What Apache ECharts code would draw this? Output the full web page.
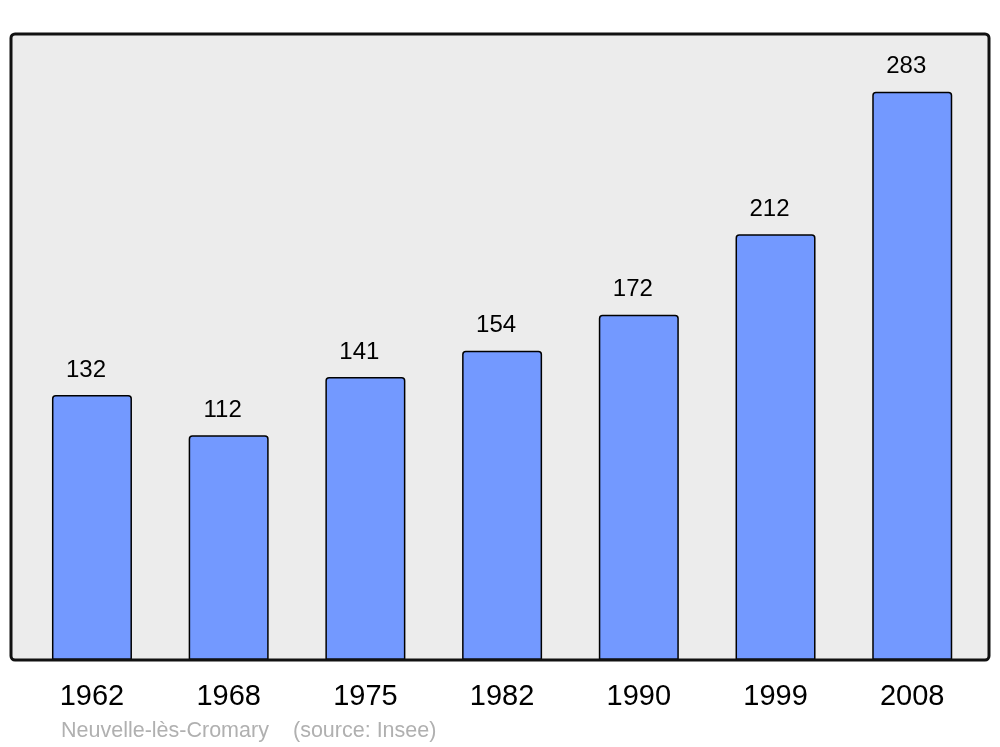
<!DOCTYPE html>
<html>
<head>
<meta charset="utf-8">
<script src="https://cdn.jsdelivr.net/npm/echarts@6/dist/echarts.min.js"></script>
<style>html,body{margin:0;padding:0;background:#fff;}#c{width:1000px;height:747px;}</style>
</head>
<body>
<div id="c"></div>
<script>
const years = ['1962', '1968', '1975', '1982', '1990', '1999', '2008'];
const population = [132, 112, 141, 154, 172, 212, 283];
const footerPlace = 'Neuvelle-lès-Cromary';
const footerSource = '(source: Insee)';

const chart = echarts.init(document.getElementById('c'), null, {renderer: 'canvas'});
chart.setOption({
  animation: false,
  backgroundColor: '#ffffff',
  textStyle: {fontFamily: 'Liberation Sans, Arial, sans-serif'},
  grid: {left: 23.6, right: 19.4, top: 34, bottom: 87, containLabel: false},
  xAxis: {
    type: 'category',
    data: years,
    axisLine: {show: false},
    axisTick: {show: false},
    axisLabel: {color: '#000', fontSize: 29, margin: 22, fontFamily: 'Liberation Sans, Arial, sans-serif'}
  },
  yAxis: {
    type: 'value',
    min: 0,
    max: 311.8,
    show: false,
    splitLine: {show: false}
  },
  graphic: [
    {type: 'rect', z: -10, silent: true,
     shape: {x: 11, y: 34, width: 978, height: 626, r: 4},
     style: {fill: '#ececec', stroke: null}},
    {type: 'rect', z: 100, silent: true,
     shape: {x: 11, y: 34, width: 978, height: 626, r: 4},
     style: {fill: null, stroke: '#111', lineWidth: 3}},
    {type: 'text', left: 61, top: 720, silent: true,
     style: {text: footerPlace, fill: '#b0b0b0', fontSize: 21.5, fontFamily: 'Liberation Sans, Arial, sans-serif'}},
    {type: 'text', left: 293, top: 720, silent: true,
     style: {text: footerSource, fill: '#b0b0b0', fontSize: 21.5, fontFamily: 'Liberation Sans, Arial, sans-serif'}}
  ],
  series: [{
    type: 'bar',
    data: population,
    barWidth: 80,
    itemStyle: {color: '#7399ff', borderColor: '#000', borderWidth: 1.5, borderRadius: [3, 3, 0, 0]},
    label: {show: true, position: 'top', distance: 13, offset: [-6, 0], color: '#000', fontSize: 24,
            fontFamily: 'Liberation Sans, Arial, sans-serif'}
  }]
});
</script>
</body>
</html>
